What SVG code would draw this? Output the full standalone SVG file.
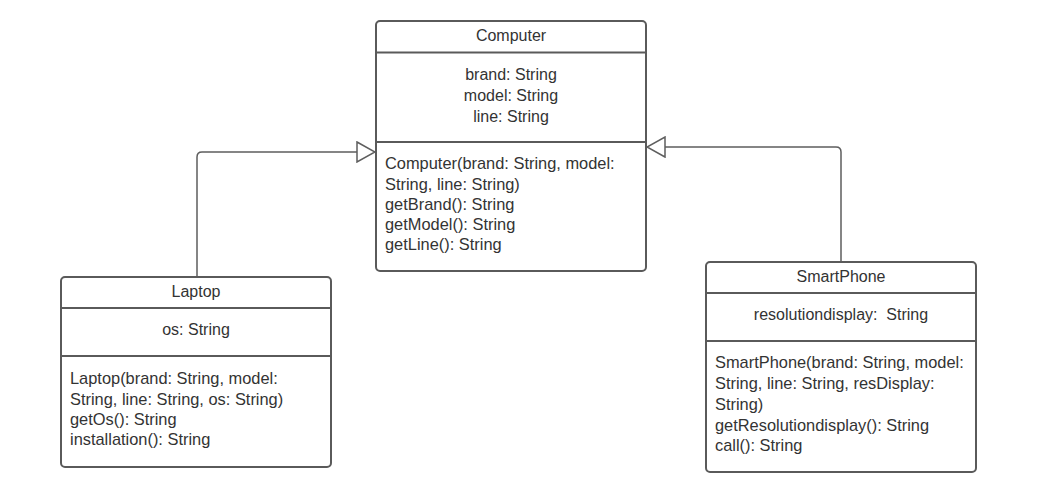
<svg xmlns="http://www.w3.org/2000/svg" width="1041" height="488" viewBox="0 0 1041 488">
  <style>
    .box { fill: #ffffff; stroke: #5a5a5a; stroke-width: 2; }
    .sep { stroke: #5a5a5a; stroke-width: 2; }
    .edge { fill: none; stroke: #5e5e5e; stroke-width: 1.5; }
    text { font-family: "Liberation Sans", Arial, sans-serif; font-size: 16px; fill: #333333; }
    .c { text-anchor: middle; }
    .m { font-size: 16.4px; }
  </style>
  <defs>
    <marker id="inherit" viewBox="0 0 20 22" refX="19" refY="11" markerWidth="20" markerHeight="22" markerUnits="userSpaceOnUse" orient="auto">
      <path d="M1,1 L19,11 L1,21 Z" fill="#ffffff" stroke="#5e5e5e" stroke-width="1.5"/>
    </marker>
  </defs>
  <rect width="1041" height="488" fill="#ffffff"/>

  <g id="connectors">
    <path class="edge" d="M197,277 V157 Q197,152 202,152 H375" marker-end="url(#inherit)"/>
    <path class="edge" d="M841,262 V152 Q841,147 836,147 H647" marker-end="url(#inherit)"/>
  </g>

  <g id="computer">
    <rect class="box" x="376" y="21" width="270" height="250" rx="4"/>
    <line class="sep" x1="376" y1="52.5" x2="646" y2="52.5"/>
    <line class="sep" x1="376" y1="142" x2="646" y2="142"/>
    <text class="c" x="511" y="41">Computer</text>
    <text class="c" x="511" y="80">brand: String</text>
    <text class="c" x="511" y="101">model: String</text>
    <text class="c" x="511" y="122">line: String</text>
    <text class="m" x="385" y="169">Computer(brand: String, model:</text>
    <text class="m" x="385" y="189.5">String, line: String)</text>
    <text class="m" x="385" y="209.5">getBrand(): String</text>
    <text class="m" x="385" y="229.5">getModel(): String</text>
    <text class="m" x="385" y="249.5">getLine(): String</text>
  </g>

  <g id="laptop">
    <rect class="box" x="61" y="277" width="270" height="190" rx="4"/>
    <line class="sep" x1="61" y1="308" x2="331" y2="308"/>
    <line class="sep" x1="61" y1="356" x2="331" y2="356"/>
    <text class="c" x="196" y="297">Laptop</text>
    <text class="c" x="196" y="335">os: String</text>
    <text class="m" x="70" y="384">Laptop(brand: String, model:</text>
    <text class="m" x="70" y="404.5">String, line: String, os: String)</text>
    <text class="m" x="70" y="424.5">getOs(): String</text>
    <text class="m" x="70" y="444.5">installation(): String</text>
  </g>

  <g id="smartphone">
    <rect class="box" x="706" y="262" width="270" height="210" rx="4"/>
    <line class="sep" x1="706" y1="293" x2="976" y2="293"/>
    <line class="sep" x1="706" y1="341" x2="976" y2="341"/>
    <text class="c" x="841" y="282">SmartPhone</text>
    <text class="c" x="841" y="320" xml:space="preserve">resolutiondisplay:  String</text>
    <text class="m" x="715" y="368">SmartPhone(brand: String, model:</text>
    <text class="m" x="715" y="389">String, line: String, resDisplay:</text>
    <text class="m" x="715" y="409.5">String)</text>
    <text class="m" x="715" y="430.5">getResolutiondisplay(): String</text>
    <text class="m" x="715" y="451">call(): String</text>
  </g>
</svg>
